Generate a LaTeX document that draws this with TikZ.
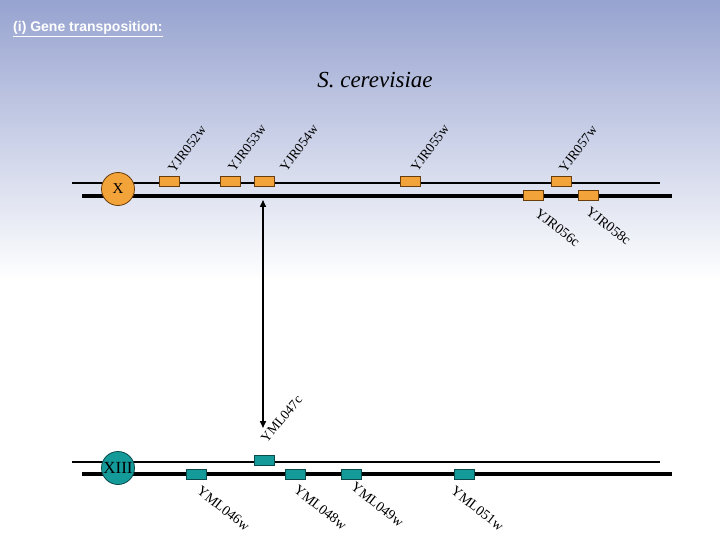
\documentclass[tikz,border=0pt]{standalone}
\usepackage{fontspec}
\setmainfont{Liberation Serif}
\newfontfamily\hdrfont{Liberation Sans}
\usetikzlibrary{arrows.meta}
\definecolor{bgtop}{HTML}{97A3D0}
\definecolor{orfill}{HTML}{F2A33A}
\definecolor{ordraw}{HTML}{6A3E0C}
\definecolor{tlfill}{HTML}{159A9A}
\definecolor{tldraw}{HTML}{0B4A4A}
\begin{document}
\begin{tikzpicture}[x=1pt,y=-1pt,
 chromthin/.style={line width=2pt},
 chromthick/.style={line width=3.2pt},
 genebox/.style={draw, line width=0.8pt, minimum width=20pt, minimum height=10pt, inner sep=0pt},
 orgene/.style={genebox, fill=orfill, draw=ordraw},
 tlgene/.style={genebox, fill=tlfill, draw=tldraw},
 centro/.style={circle, draw, line width=0.8pt, minimum size=33pt, inner sep=0pt, font=\fontsize{15}{15}\selectfont},
 uplabel/.style={rotate=53, anchor=center, inner sep=0pt, font=\fontsize{13.5}{13.5}\selectfont},
 dnlabel/.style={rotate=-38, anchor=center, inner sep=0pt, font=\fontsize{14}{14}\selectfont},
 dblarrow/.style={line width=1.5pt, {Triangle[length=7pt,width=6pt]}-{Triangle[length=7pt,width=6pt]}}
]
\useasboundingbox (0,0) rectangle (720,540);
\fill[white] (0,0) rectangle (720,540);
\shade[top color=bgtop, bottom color=white] (0,0) rectangle (720,280);

\node[anchor=base west, text=white, inner sep=0pt, font=\hdrfont\bfseries\fontsize{14}{14}\selectfont] (hdr) at (13,32) {\underline{(i) Gene transposition:}};
\node[font=\fontsize{23}{23}\selectfont\itshape] (title) at (375,80) {S. cerevisiae};

% chromosome X
\coordinate (xa1) at (72,183); \coordinate (xa2) at (660,183);
\coordinate (xb1) at (82,196); \coordinate (xb2) at (672,196);
\draw[chromthin] (xa1) -- (xa2);
\draw[chromthick] (xb1) -- (xb2);
\node[centro, fill=orfill, draw=ordraw] (cx) at (118,189) {X};

\node[orgene] (g52) at (169,181) {};
\node[orgene] (g53) at (230,181) {};
\node[orgene] (g54) at (264,181) {};
\node[orgene] (g55) at (410,181) {};
\node[orgene] (g57) at (561,181) {};
\node[orgene] (g56) at (533.5,195.5) {};
\node[orgene] (g58) at (588,195.5) {};

\node[uplabel] (l52) at (187,149) {YJR052w};
\node[uplabel] (l53) at (247,148) {YJR053w};
\node[uplabel] (l54) at (299,148) {YJR054w};
\node[uplabel] (l55) at (430,148) {YJR055w};
\node[uplabel] (l57) at (578,149) {YJR057w};
\node[dnlabel] (l56) at (557.5,227.5) {YJR056c};
\node[dnlabel] (l58) at (608.5,226) {YJR058c};

% chromosome XIII
\coordinate (ma1) at (72,462); \coordinate (ma2) at (660,462);
\coordinate (mb1) at (82,474); \coordinate (mb2) at (672,474);
\draw[chromthin] (ma1) -- (ma2);
\draw[chromthick] (mb1) -- (mb2);
\node[centro, fill=tlfill, draw=tldraw] (cm) at (118,468) {\fontsize{17}{17}\selectfont XIII};

\node[tlgene] (m47) at (264,460.5) {};
\node[tlgene] (m46) at (196,474) {};
\node[tlgene] (m48) at (295.5,474) {};
\node[tlgene] (m49) at (351.5,474) {};
\node[tlgene] (m51) at (464,474) {};

\node[uplabel, rotate=-3] (k47) at (281.5,419) {YML047c};
\node[dnlabel] (k46) at (223.5,508.5) {YML046w};
\node[dnlabel] (k48) at (320.5,507.5) {YML048w};
\node[dnlabel] (k49) at (377.5,504.5) {YML049w};
\node[dnlabel] (k51) at (477.5,508.5) {YML051w};

% transposition arrow
\coordinate (atop) at (263,200);
\coordinate (abot) at (263,428);
\draw[dblarrow] (atop) -- (abot);
\end{tikzpicture}
\end{document}
